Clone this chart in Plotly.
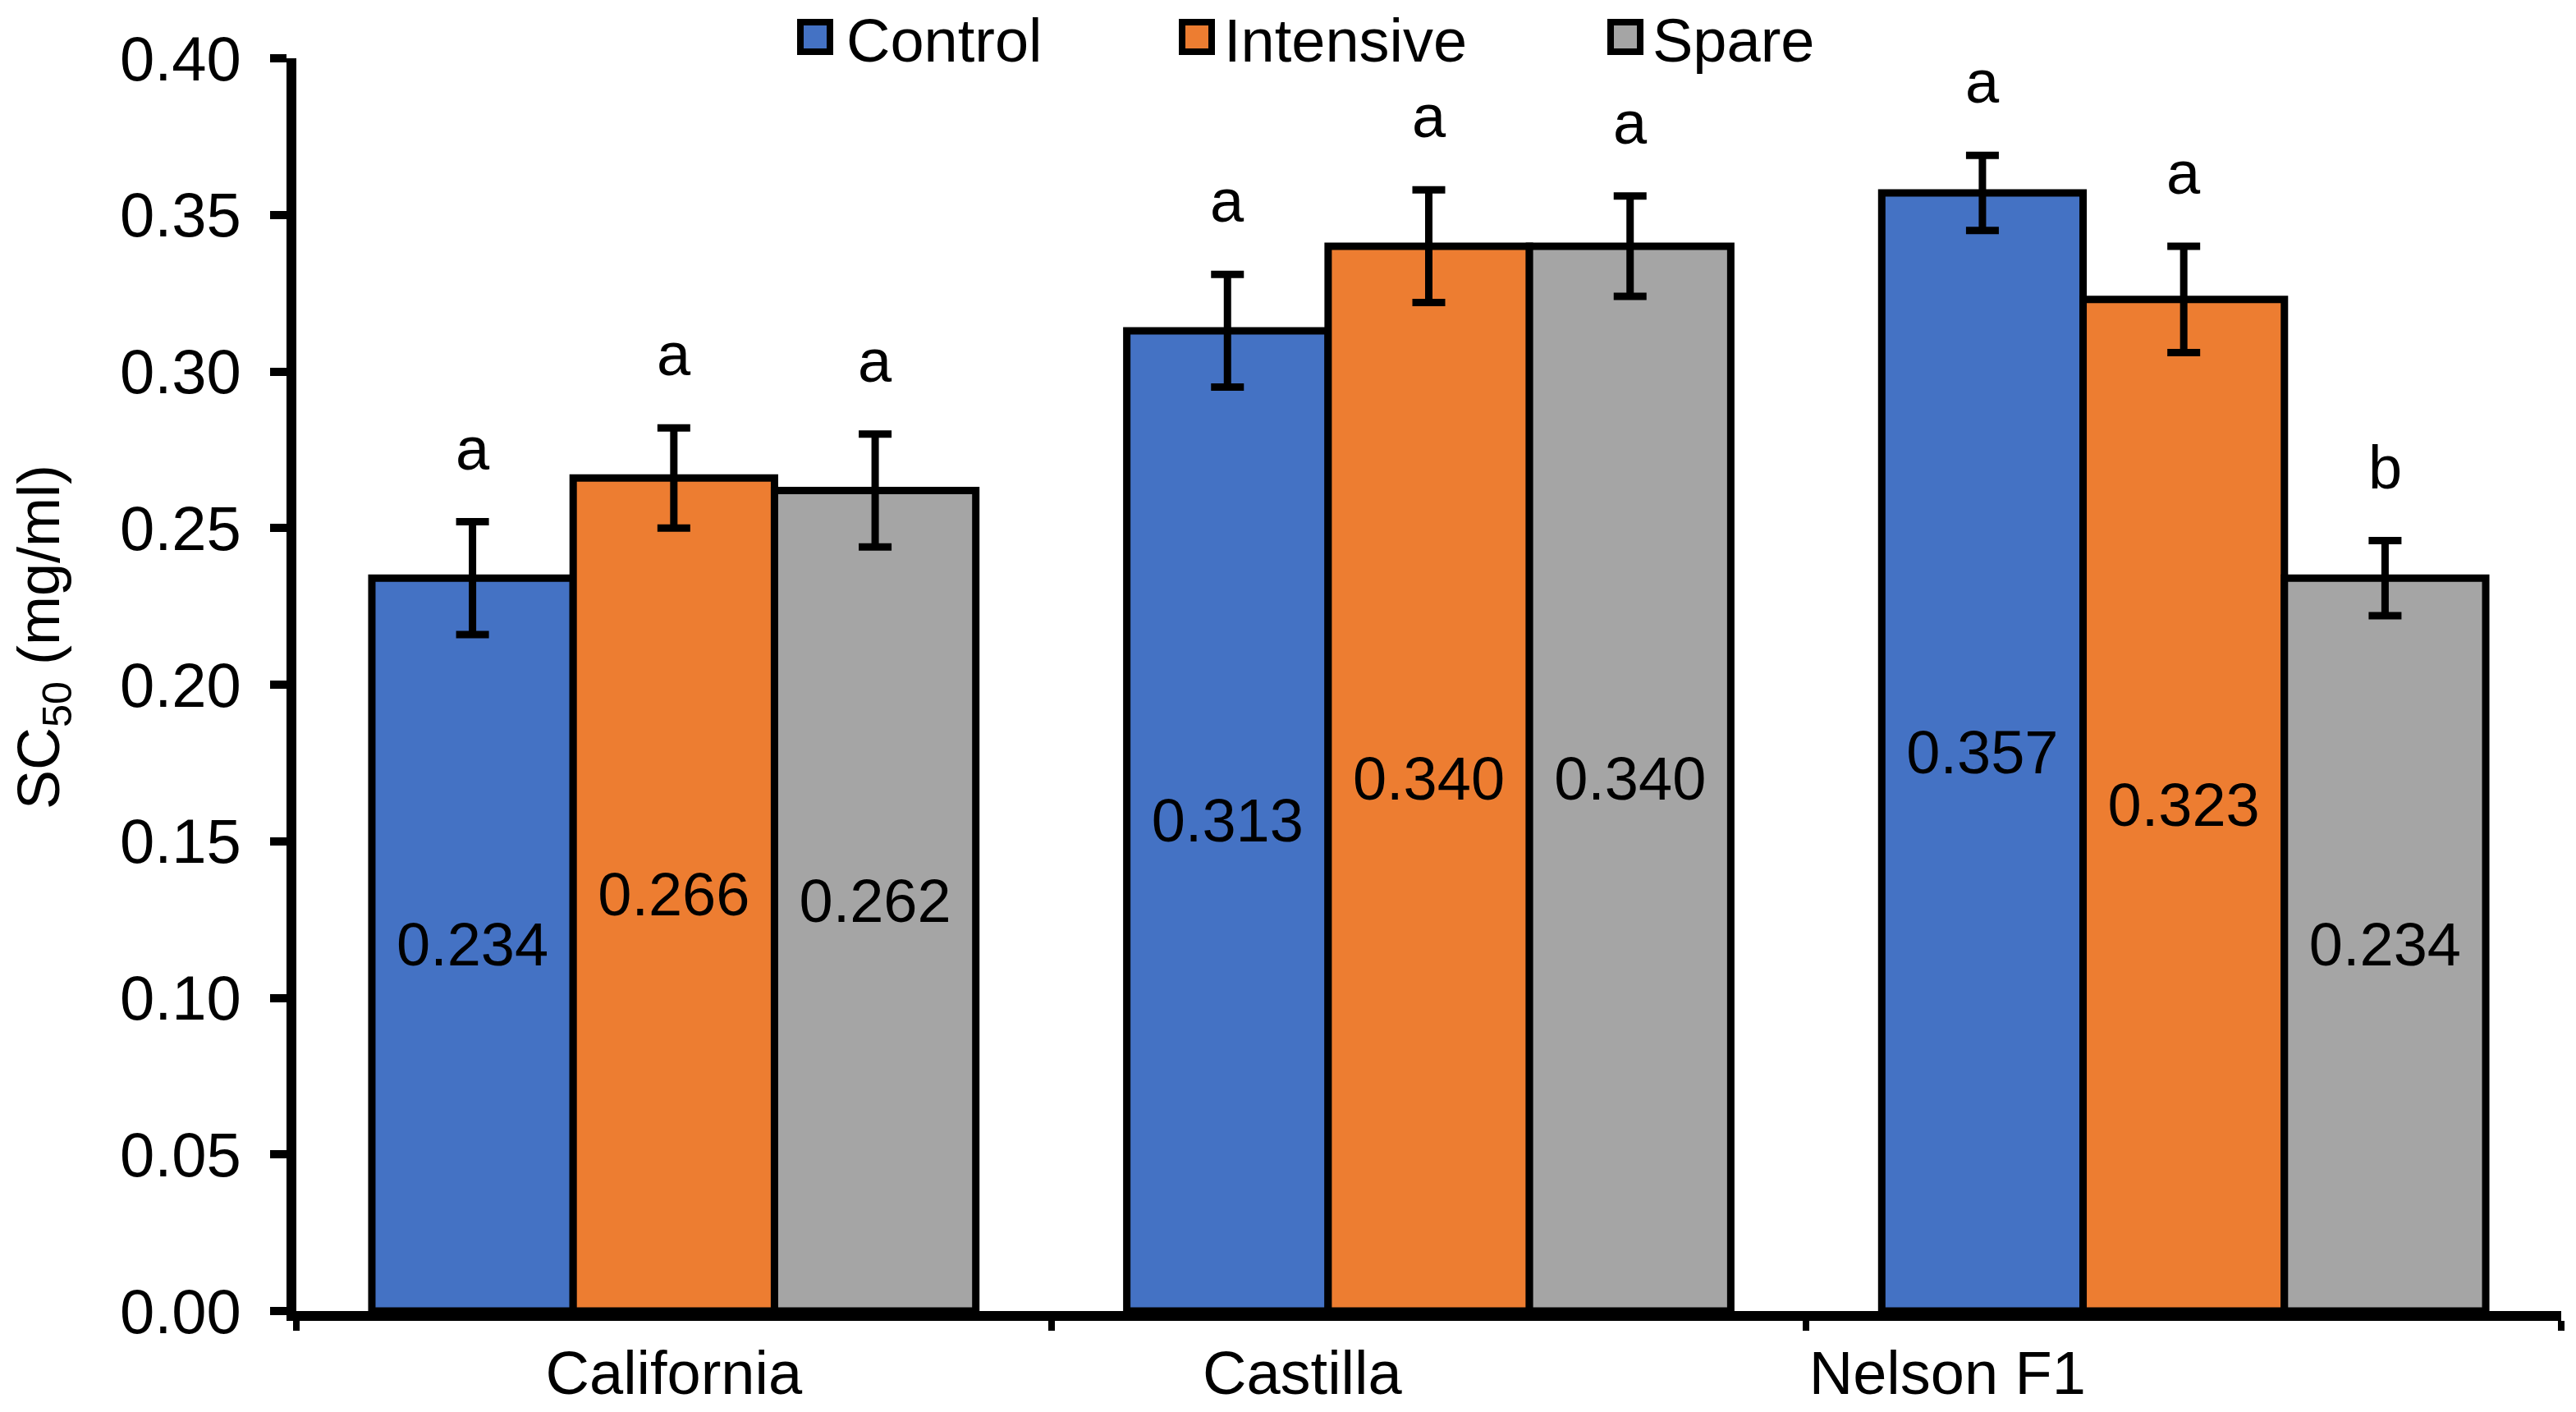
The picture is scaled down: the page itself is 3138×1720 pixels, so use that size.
import plotly.graph_objects as go

categories = ["California", "Castilla", "Nelson F1"]
series_names = ["Control", "Intensive", "Spare"]
control = [0.234, 0.313, 0.357]
intensive = [0.266, 0.340, 0.323]
spare = [0.262, 0.340, 0.234]
control_err = [0.018, 0.018, 0.012]
intensive_err = [0.016, 0.018, 0.017]
spare_err = [0.018, 0.016, 0.012]
control_letters = ["a", "a", "a"]
intensive_letters = ["a", "a", "a"]
spare_letters = ["a", "a", "b"]
y_ticks = [0.00, 0.05, 0.10, 0.15, 0.20, 0.25, 0.30, 0.35, 0.40]
y_title = "SC<sub>50</sub> (mg/ml)"

colors = ["#4472C4", "#ED7D31", "#A5A5A5"]
FONT = "Liberation Sans, Arial, sans-serif"
NB = "\u00a0"

W, H = 3138, 1720
OFF = 8  # page body margin offset
# target screen positions of the plot frame
SCR_L, SCR_R, SCR_T, SCR_B = 361, 3120, 71, 1597
ML, MT = SCR_L - OFF, SCR_T - OFF
MR, MB = W - (SCR_R - OFF), H - (SCR_B - OFF)
PW, PH = W - ML - MR, H - MT - MB

def px_x(p):
    return (p - OFF - ML) / PW

def px_y(p):
    return (H - MB - (p - OFF)) / PH

values = [control, intensive, spare]
errors = [control_err, intensive_err, spare_err]
letters = [control_letters, intensive_letters, spare_letters]

fig = go.Figure()
for j, name in enumerate(series_names):
    fig.add_trace(go.Bar(
        name=name,
        x=categories,
        y=values[j],
        marker=dict(color=colors[j], line=dict(color="black", width=9)),
        error_y=dict(type="data", array=errors[j], color="black", thickness=9, width=20),
        text=[f"{v:.3f}" for v in values[j]],
        textposition="inside",
        insidetextanchor="middle",
        textangle=0,
        constraintext="none",
        textfont=dict(family=FONT, size=74, color="black"),
        showlegend=False,
    ))

bargap = 0.2
bw = (1 - bargap) / 3
annotations = []
for j in range(3):
    for i in range(len(categories)):
        annotations.append(dict(
            x=i + (j - 1) * bw,
            y=values[j][i] + errors[j][i],
            xref="x", yref="y",
            text=letters[j][i],
            showarrow=False,
            yanchor="bottom",
            yshift=46,
            font=dict(family=FONT, size=74, color="black"),
        ))

# legend (swatches + labels) drawn above the plot
legend_swatch_left = [971, 1436, 1958]
legend_text_left = [1034, 1494, 2016]
shapes = []
for j, name in enumerate(series_names):
    x0 = legend_swatch_left[j]
    shapes.append(dict(
        type="rect", xref="paper", yref="paper",
        x0=px_x(x0 + 4), x1=px_x(x0 + 40), y0=px_y(63), y1=px_y(27),
        fillcolor=colors[j], line=dict(color="black", width=8),
    ))
    annotations.append(dict(
        x=px_x(legend_text_left[j] - 4), y=px_y(50),
        xref="paper", yref="paper",
        xanchor="left", yanchor="middle",
        borderpad=0,
        text=name, showarrow=False,
        font=dict(family=FONT, size=74, color="black"),
    ))

# y-axis title
annotations.append(dict(
    x=px_x(52), y=px_y(776),
    xref="paper", yref="paper",
    xanchor="center", yanchor="middle",
    textangle=-90,
    text=y_title, showarrow=False,
    font=dict(family=FONT, size=72, color="black"),
))

# category labels sit slightly left of their group centres in the reference
tick_pad = [0, 15, 28]
tick_text = [c + NB * n for c, n in zip(categories, tick_pad)]

fig.update_layout(
    width=W, height=H,
    margin=dict(l=ML, r=MR, t=MT, b=MB),
    barmode="group",
    bargap=bargap,
    bargroupgap=0,
    plot_bgcolor="white",
    paper_bgcolor="white",
    font=dict(family=FONT, size=74, color="black"),
    showlegend=False,
    annotations=annotations,
    shapes=shapes,
)
fig.update_xaxes(
    tickvals=categories,
    ticktext=tick_text,
    tickangle=0,
    automargin=False,
    showline=True, linecolor="black", linewidth=12,
    ticks="outside", tickson="boundaries", ticklen=12, tickwidth=8, tickcolor="black",
    tickfont=dict(family=FONT, size=74, color="black"),
    showgrid=False, zeroline=False,
)
fig.update_yaxes(
    range=[0, 0.40],
    tickvals=y_ticks,
    ticktext=[f"{t:.2f}" for t in y_ticks],
    automargin=False,
    showline=True, linecolor="black", linewidth=12,
    ticks="outside", ticklen=20, tickwidth=10, tickcolor="black",
    ticklabelstandoff=20,
    tickfont=dict(family=FONT, size=76, color="black"),
    showgrid=False, zeroline=False,
)

fig.write_html("out.html")
